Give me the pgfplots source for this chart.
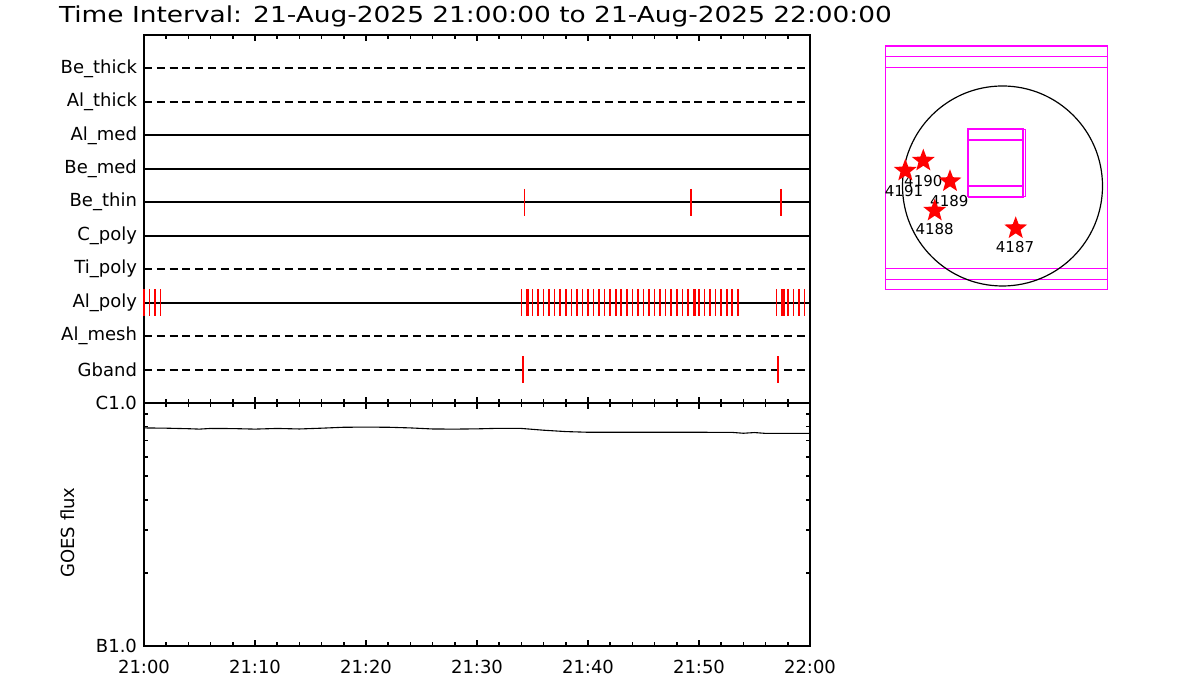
\documentclass[border=0pt]{standalone}
\usepackage{pgfplots}
\pgfplotsset{compat=1.18}
\usepackage{graphicx}
\usepackage{fontspec}
\setmainfont{DejaVu Sans}

\definecolor{idlred}{HTML}{FF0000}
\definecolor{idlmag}{HTML}{FF00FF}

% filled five-point star
\pgfdeclareplotmark{fstar}{%
  \pgfpathmoveto{\pgfpointpolar{90}{\pgfplotmarksize}}%
  \pgfpathlineto{\pgfpointpolar{126}{0.42\pgfplotmarksize}}%
  \pgfpathlineto{\pgfpointpolar{162}{\pgfplotmarksize}}%
  \pgfpathlineto{\pgfpointpolar{198}{0.42\pgfplotmarksize}}%
  \pgfpathlineto{\pgfpointpolar{234}{\pgfplotmarksize}}%
  \pgfpathlineto{\pgfpointpolar{270}{0.42\pgfplotmarksize}}%
  \pgfpathlineto{\pgfpointpolar{306}{\pgfplotmarksize}}%
  \pgfpathlineto{\pgfpointpolar{342}{0.42\pgfplotmarksize}}%
  \pgfpathlineto{\pgfpointpolar{18}{\pgfplotmarksize}}%
  \pgfpathlineto{\pgfpointpolar{54}{0.42\pgfplotmarksize}}%
  \pgfpathclose\pgfusepathqfill}

\pgfplotsset{
  timeax/.style={
    scale only axis, width=333pt, anchor=south west,
    xmin=0, xmax=60, xtick={0,10,...,60}, minor x tick num=4,
    axis line style={line width=1.1pt},
    every tick/.style={black, line width=0.8pt},
    major tick length=3pt, minor tick length=1.8pt,
    tick label style={font=\fontsize{9}{10}\selectfont},
    clip=false,
  },
  rowline/.style={black, line width=1pt},
  rowdash/.style={black, line width=1pt, dash pattern=on 4pt off 2.4pt},
  hits/.style={only marks, mark=|, mark size=6.75pt, color=idlred,
    mark options={draw=idlred, line width=#1}},
}

\begin{document}
\begin{tikzpicture}
\path[use as bounding box] (0,0) rectangle (600pt,350pt);

\node[anchor=west] at (26pt,342pt)
  {\scalebox{1.2}[1]{\fontsize{11}{12}\selectfont Time Interval: 21-Aug-2025 21:00:00 to 21-Aug-2025 22:00:00}};

% filter panel
\begin{axis}[timeax, at={(72pt,148.5pt)}, height=184pt,
  ymin=0, ymax=11, y dir=reverse,
  ytick={1,...,10},
  yticklabels={Be\_thick,Al\_thick,Al\_med,Be\_med,Be\_thin,C\_poly,Ti\_poly,Al\_poly,Al\_mesh,Gband},
  ytick style={draw=none},
  xticklabels=\empty]
\addplot[rowdash] coordinates {(0,1) (60,1)};
\addplot[rowdash] coordinates {(0,2) (60,2)};
\addplot[rowline] coordinates {(0,3) (60,3)};
\addplot[rowline] coordinates {(0,4) (60,4)};
\addplot[rowline] coordinates {(0,5) (60,5)};
\addplot[rowline] coordinates {(0,6) (60,6)};
\addplot[rowdash] coordinates {(0,7) (59.6,7)};
\addplot[rowline] coordinates {(0,8) (60,8)};
\addplot[rowdash] coordinates {(0,9) (60,9)};
\addplot[rowdash] coordinates {(0,10) (60,10)};
% Be_thin
\addplot[hits=0.7pt] coordinates {(34.3,5)};
\addplot[hits=1.1pt] coordinates {(49.25,5) (57.4,5)};
% Al_poly
\addplot[hits=0.8pt] coordinates {
  (0,8) (0.5,8) (1.0,8) (1.5,8)
  (34.0,8) (34.5,8) (34.65,8) (35.0,8) (35.5,8) (36.0,8) (36.5,8) (37.0,8)
  (37.5,8) (38.0,8) (38.5,8) (39.0,8) (39.5,8) (40.0,8) (40.5,8) (41.0,8)
  (41.5,8) (42.0,8) (42.5,8) (43.0,8) (43.5,8) (44.0,8) (44.5,8) (45.0,8)
  (45.5,8) (46.0,8) (46.5,8) (47.0,8) (47.5,8) (48.0,8) (48.5,8) (49.0,8)
  (49.5,8) (49.65,8) (50.0,8) (50.5,8) (51.0,8) (51.5,8) (52.0,8) (52.5,8)
  (53.0,8) (53.5,8)
  (57.0,8) (57.5,8) (57.65,8) (58.0,8) (58.5,8) (59.0,8) (59.5,8)};
% Gband
\addplot[hits=0.7pt] coordinates {(34.15,10) (57.1,10)};
\end{axis}

% GOES panel
\begin{axis}[timeax, at={(72pt,27pt)}, height=121.5pt,
  ymode=log, ymin=1e-7, ymax=1e-6,
  ytick={1e-7,1e-6}, yticklabels={B1.0,C1.0},
  xticklabels={21:00,21:10,21:20,21:30,21:40,21:50,22:00},
  xticklabel style={yshift=-3.5pt},
  ylabel={GOES flux},
  ylabel style={font=\fontsize{9}{10}\selectfont, at={(axis description cs:-0.115,0.467)}, anchor=center, rotate=0}]
\addplot[black, line width=0.55pt] coordinates {
  (0,7.90e-7) (2,7.88e-7) (4,7.84e-7) (5,7.81e-7) (6,7.86e-7) (8,7.85e-7)
  (10,7.81e-7) (12,7.86e-7) (14,7.82e-7) (16,7.88e-7) (18,7.95e-7)
  (20,7.96e-7) (22,7.95e-7) (24,7.90e-7) (26,7.82e-7) (28,7.81e-7)
  (30,7.83e-7) (32,7.87e-7) (34,7.86e-7) (36,7.73e-7) (38,7.63e-7)
  (40,7.58e-7) (45,7.58e-7) (50,7.58e-7) (53,7.57e-7) (54,7.51e-7)
  (55,7.56e-7) (56,7.50e-7) (60,7.50e-7)};
\end{axis}

% solar disk inset
\begin{axis}[scale only axis, anchor=south west, at={(442.65pt,205.35pt)},
  width=111.2pt, height=121.65pt,
  xmin=-1.172, xmax=1.052, ymin=-1.033, ymax=1.40,
  xtick=\empty, ytick=\empty,
  axis line style={idlmag, line width=0.65pt}, clip=false]
\addplot[idlmag, line width=0.6pt] coordinates {(-1.172,1.293) (1.052,1.293)};
\addplot[idlmag, line width=0.6pt] coordinates {(-1.172,1.187) (1.052,1.187)};
\addplot[idlmag, line width=0.6pt] coordinates {(-1.172,-0.823) (1.052,-0.823)};
\addplot[idlmag, line width=0.6pt] coordinates {(-1.172,-0.933) (1.052,-0.933)};
\draw[black, line width=0.6pt] (axis cs:0,0) circle [radius=1];
\addplot[idlmag, line width=1.1pt] coordinates {
  (-0.342,-0.107) (0.208,-0.107) (0.208,0.567) (-0.342,0.567) (-0.342,-0.107)};
\addplot[idlmag, line width=0.7pt] coordinates {(-0.342,0.567) (0.232,0.567) (0.232,-0.107) (0.208,-0.107)};
\addplot[idlmag, line width=1.1pt] coordinates {(-0.342,0.46) (0.208,0.46)};
\addplot[idlmag, line width=1.1pt] coordinates {(-0.342,0.003) (0.208,0.003)};
\addplot[only marks, mark=fstar, mark size=6pt, idlred, mark options={fill=idlred}]
  coordinates {(-0.792,0.253) (-0.972,0.153) (-0.525,0.047) (-0.678,-0.247) (0.132,-0.423)};
\begin{scope}[font=\fontsize{7.5}{8}\selectfont]
\node at (axis cs:-0.792,0.053) {4190};
\node at (axis cs:-0.985,-0.047) {4191};
\node at (axis cs:-0.532,-0.153) {4189};
\node at (axis cs:-0.678,-0.433) {4188};
\node at (axis cs:0.125,-0.613) {4187};
\end{scope}
\end{axis}
\end{tikzpicture}
\end{document}
